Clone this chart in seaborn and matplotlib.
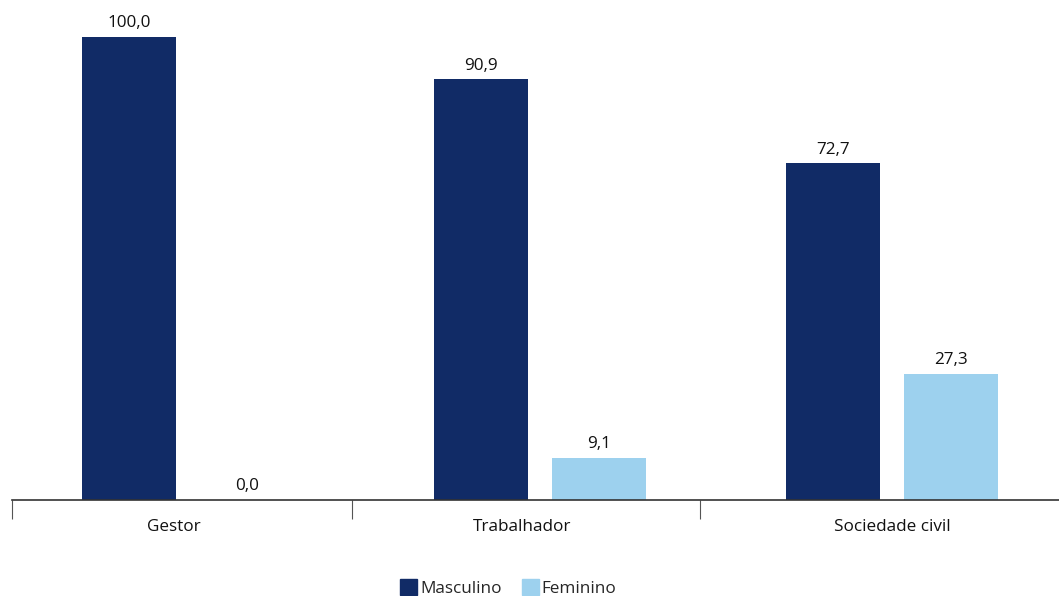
import matplotlib
matplotlib.use('Agg')
import matplotlib.pyplot as plt
import pandas as pd
import seaborn as sns

categories = ['Gestor', 'Trabalhador', 'Sociedade civil']
masculino = [100.0, 90.9, 72.7]
feminino = [0.0, 9.1, 27.3]
series_names = ['Masculino', 'Feminino']
colors = ['#112B66', '#9DD1EE']

df = pd.DataFrame({
    'categoria': categories * 2,
    'valor': masculino + feminino,
    'sexo': [series_names[0]] * 3 + [series_names[1]] * 3,
})

sns.set_style('white')
plt.rcParams['font.family'] = ['Open Sans', 'DejaVu Sans']

fig = plt.figure(figsize=(10.59, 5.96), dpi=100)
ax = fig.add_axes([12 / 1059, 96 / 596, 1 - 12 / 1059, 500 / 596])

sns.barplot(data=df, x='categoria', y='valor', hue='sexo', order=categories,
            hue_order=series_names, palette=colors, width=0.67, gap=0.2,
            saturation=1, linewidth=0, ax=ax, legend=False)

for cont in ax.containers:
    ax.bar_label(cont, labels=[f'{v:.1f}'.replace('.', ',') for v in cont.datavalues],
                 padding=4, fontsize=12.3, color='#111111')

ax.set_xlim(-0.5, 2.474)
ax.set_ylim(0, 108)
ax.set_xlabel('')
ax.set_ylabel('')
ax.set_yticks([])
sns.despine(ax=ax, left=True, right=True, top=True)
ax.spines['bottom'].set_color('#333333')
ax.spines['bottom'].set_linewidth(1.2)

# category labels and separators below the axis line
ax.set_xticks([-0.04, 0.95, 2.0], labels=categories)
ax.set_xticks([-0.5, 0.465, 1.455], minor=True)
ax.tick_params(axis='x', which='minor', bottom=True, length=14, width=0.8,
               color='#555555', direction='out')
ax.tick_params(axis='x', which='major', length=0, labelsize=12.3, pad=14,
               labelcolor='#111111')

handles = [plt.Rectangle((0, 0), 1, 1, color=c) for c in colors]
fig.legend(handles, series_names, loc='center', bbox_to_anchor=(0.48, 8 / 596),
           ncol=2, frameon=False, fontsize=12.3, handlelength=1.0, handleheight=1.0,
           handletextpad=0.15, columnspacing=1.2)

fig.savefig('out.png', dpi=100)
